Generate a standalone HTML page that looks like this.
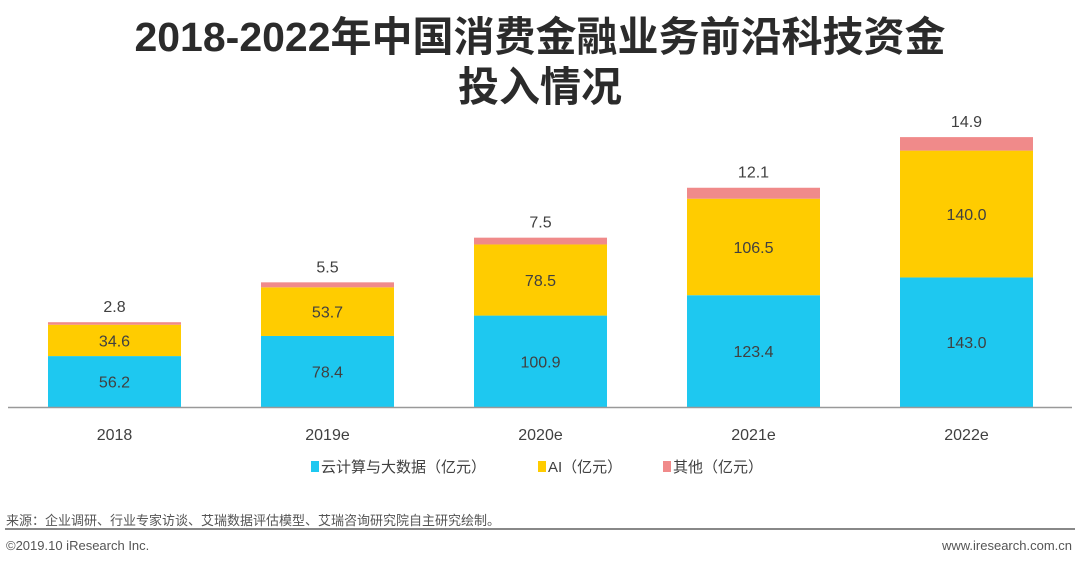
<!DOCTYPE html>
<html><head><meta charset="utf-8"><style>
html,body{margin:0;padding:0;background:#fff;}
body{width:1080px;height:562px;overflow:hidden;position:relative;font-family:"Liberation Sans","Noto Sans CJK SC",sans-serif;}
.t{position:absolute;left:0;width:1080px;text-align:center;font-weight:bold;font-size:41px;color:#2b2b2b;line-height:50px;}
.f{position:absolute;font-size:13px;color:#555;}
</style></head><body>
<div class="t" style="top:12px">2018-2022年中国消费金融业务前沿科技资金<br>投入情况</div>
<svg id="c" width="1080" height="562" style="position:absolute;left:0;top:0"></svg>
<div class="f" style="left:6px;top:510px">来源：企业调研、行业专家访谈、艾瑞数据评估模型、艾瑞咨询研究院自主研究绘制。</div>
<div style="position:absolute;left:5px;top:528px;width:1070px;height:2px;background:#888"></div>
<div class="f" style="left:6px;top:538px">©2019.10 iResearch Inc.</div>
<div class="f" style="right:8px;top:538px">www.iresearch.com.cn</div>
<script>
const categories=["2018","2019e","2020e","2021e","2022e"];
const cloudValues=[56.2,78.4,100.9,123.4,143.0];
const aiValues=[34.6,53.7,78.5,106.5,140.0];
const otherValues=[2.8,5.5,7.5,12.1,14.9];
const seriesNames=["云计算与大数据（亿元）","AI（亿元）","其他（亿元）"];
const colors=["#1ec8f0","#ffcc00","#f08a8a"];
const svg=document.getElementById('c');const NS='http://www.w3.org/2000/svg';
const base=407,k=0.906,left=8,band=213,bw=133;
const y=v=>base-v*k;const xc=i=>left+band*i+band/2;
function mk(t,a){const e=document.createElementNS(NS,t);for(const n in a)e.setAttribute(n,a[n]);svg.appendChild(e);return e;}
const series=[cloudValues,aiValues,otherValues];
categories.forEach((c,i)=>{
 let cum=0;
 series.forEach((s,j)=>{
  const v=s[i];
  const r=mk('rect',{x:xc(i)-bw/2,y:y(cum+v),width:bw,height:v*k,fill:colors[j]});
  
  
  const ty=j<2?y(cum+v/2)+6:y(cum+v)-10;
  const t=mk('text',{x:xc(i),y:ty,'text-anchor':'middle','font-size':16,fill:'#404040'});
  t.textContent=v.toFixed(1);
  
  
  cum+=v;
 });
 const l=mk('text',{x:xc(i),y:440,'text-anchor':'middle','font-size':16,fill:'#404040'});
 l.textContent=c;
 
 
});
const ax=mk('line',{x1:8,x2:1072,y1:base+0.5,y2:base+0.5,stroke:'#999','stroke-width':1.5});


const lx=[311,538,663];
seriesNames.forEach((n,j)=>{
 const r=mk('rect',{x:lx[j],y:461,width:8,height:11,fill:colors[j]});
 
 
 const t=mk('text',{x:lx[j]+10,y:472,'font-size':15,fill:'#404040'});
 t.textContent=n;
 
 
});
</script>
</body></html>
